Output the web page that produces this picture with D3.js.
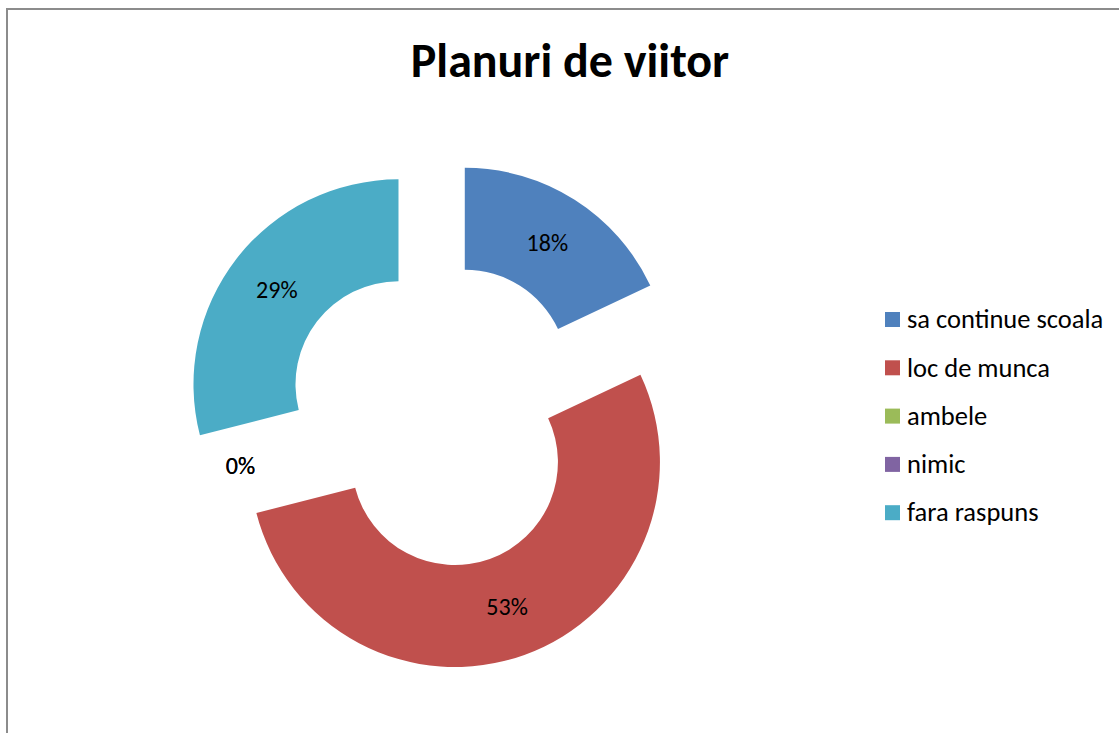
<!DOCTYPE html>
<html>
<head>
<meta charset="utf-8">
<script src="https://cdn.jsdelivr.net/npm/d3@7"></script>
<style>
  body { margin: 0; background: #fff; }
  svg { display: block; font-family: Carlito, "Open Sans", sans-serif; }
</style>
</head>
<body>
<div id="chart"></div>
<script>
const categories = ["sa continue scoala", "loc de munca", "ambele", "nimic", "fara raspuns"];
const values = [18, 53, 0, 0, 29];
const labels = ["18%", "53%", "0%", "0%", "29%"];
const colors = ["#4F81BD", "#C0504D", "#9BBB59", "#8064A2", "#4BACC6"];

const width = 1119, height = 733;
const cx = 438, cy = 415;
const outerR = 205, innerR = 103, explode = 50;

const svg = d3.select("#chart")
    .append("svg")
    .attr("width", width)
    .attr("height", height);

// chart frame
svg.append("rect")
    .attr("x", 7).attr("y", 9)
    .attr("width", width + 10).attr("height", height + 10)
    .attr("fill", "none")
    .attr("stroke", "#8c8c8c")
    .attr("stroke-width", 2);

svg.append("text")
    .attr("x", 570)
    .attr("y", 77)
    .attr("text-anchor", "middle")
    .style("font-size", "48px")
    .style("font-weight", "bold")
    .text("Planuri de viitor");

const pie = d3.pie().sort(null).value(d => d)(values);
const arc = d3.arc().innerRadius(innerR).outerRadius(outerR);
const labelArc = d3.arc().innerRadius((innerR + outerR) / 2).outerRadius((innerR + outerR) / 2);

const g = svg.append("g").attr("transform", `translate(${cx},${cy})`);

const slices = g.selectAll("g.slice")
    .data(pie)
    .enter().append("g")
    .attr("class", "slice")
    .attr("transform", d => {
        const a = (d.startAngle + d.endAngle) / 2;
        return `translate(${Math.sin(a) * explode},${-Math.cos(a) * explode})`;
    });

slices.filter(d => d.value > 0).append("path")
    .attr("d", arc)
    .attr("fill", d => colors[d.index]);

slices.append("text")
    .attr("transform", d => `translate(${labelArc.centroid(d)})`)
    .attr("text-anchor", "middle")
    .attr("dy", "0.35em")
    .style("font-size", "24px")
    .attr("fill", "#000")
    .text(d => labels[d.index]);

const legend = svg.append("g").attr("transform", "translate(885,319)");
const item = legend.selectAll("g")
    .data(categories)
    .enter().append("g")
    .attr("transform", (d, i) => `translate(0,${i * 48.3})`);

item.append("rect")
    .attr("x", 0).attr("y", -7)
    .attr("width", 15).attr("height", 15)
    .attr("fill", (d, i) => colors[i]);

item.append("text")
    .attr("x", 22)
    .attr("dy", "0.35em")
    .style("font-size", "26.5px")
    .text(d => d);
</script>
</body>
</html>
